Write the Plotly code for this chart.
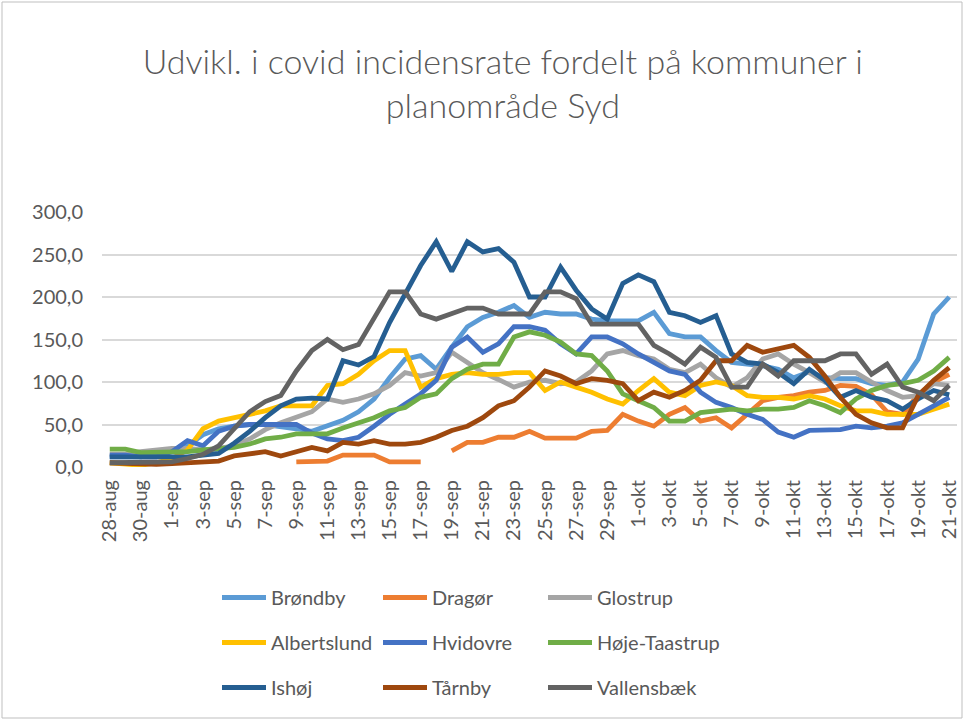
import plotly.graph_objects as go

dates = ["28-aug", "29-aug", "30-aug", "31-aug",
         "1-sep", "2-sep", "3-sep", "4-sep", "5-sep", "6-sep", "7-sep", "8-sep", "9-sep", "10-sep",
         "11-sep", "12-sep", "13-sep", "14-sep", "15-sep", "16-sep", "17-sep", "18-sep", "19-sep", "20-sep",
         "21-sep", "22-sep", "23-sep", "24-sep", "25-sep", "26-sep", "27-sep", "28-sep", "29-sep", "30-sep",
         "1-okt", "2-okt", "3-okt", "4-okt", "5-okt", "6-okt", "7-okt", "8-okt", "9-okt", "10-okt",
         "11-okt", "12-okt", "13-okt", "14-okt", "15-okt", "16-okt", "17-okt", "18-okt", "19-okt", "20-okt",
         "21-okt"]

tick_labels = ["28-aug", "30-aug", "1-sep", "3-sep", "5-sep", "7-sep", "9-sep", "11-sep", "13-sep",
               "15-sep", "17-sep", "19-sep", "21-sep", "23-sep", "25-sep", "27-sep", "29-sep",
               "1-okt", "3-okt", "5-okt", "7-okt", "9-okt", "11-okt", "13-okt", "15-okt", "17-okt",
               "19-okt", "21-okt"]

y_ticks = [0, 50, 100, 150, 200, 250, 300]

brondby = [12, 12, 12, 15, 20, 25, 38, 45, 48, 50,
           50, 48, 45, 42, 48, 55, 65, 80, 105, 127,
           131, 115, 141, 165, 176, 182, 190, 176, 182, 180,
           180, 174, 172, 172, 172, 182, 157, 153, 153, 137,
           123, 121, 119, 115, 105, 112, 105, 104, 104, 98,
           96, 100, 127, 180, 200]

dragor = [None, None, None, None, None, None, None, None, None, None,
          None, None, 6, 6, 7, 14, 14, 14, 6, 6,
          6, None, 19, 29, 29, 35, 35, 42, 34, 34,
          34, 42, 43, 62, 54, 48, 62, 70, 54, 58,
          46, 62, 78, 82, 84, 88, 90, 96, 95, 85,
          65, 62, 85, 100, 109]

glostrup = [15, 15, 18, 20, 22, 22, 20, 22, 25, 33,
            44, 52, 58, 65, 80, 76, 80, 86, 96, 111,
            107, 111, 135, 123, 111, 103, 94, 100, 102, 98,
            100, 113, 133, 137, 131, 127, 115, 111, 121, 105,
            94, 105, 127, 133, 121, 111, 100, 111, 111, 100,
            90, 82, 84, 98, 96]

albertslund = [5, 3, 2, 5, 10, 20, 45, 54, 58, 62,
               66, 72, 72, 72, 96, 98, 109, 125, 137, 137,
               94, 104, 109, 111, 109, 109, 111, 111, 90, 100,
               94, 88, 80, 74, 90, 104, 88, 84, 96, 100,
               96, 84, 82, 82, 80, 84, 80, 72, 66, 66,
               62, 62, 62, 68, 74]

hvidovre = [14, 14, 12, 12, 18, 31, 25, 42, 48, 50,
            50, 50, 50, 40, 33, 31, 35, 48, 62, 74,
            86, 102, 141, 153, 135, 145, 165, 165, 161, 145,
            133, 153, 153, 145, 133, 123, 113, 109, 88, 76,
            70, 62, 56, 41, 35, 43, 43, 44, 48, 46,
            48, 52, 62, 72, 82]

hoje_taastrup = [21, 21, 17, 17, 18, 18, 20, 22, 23, 27,
                 33, 35, 39, 39, 39, 46, 52, 58, 66, 70,
                 82, 86, 104, 115, 121, 121, 153, 159, 155, 147,
                 133, 131, 113, 86, 78, 70, 54, 54, 64, 66,
                 68, 66, 68, 68, 70, 78, 72, 64, 80, 90,
                 96, 98, 102, 113, 129]

ishoj = [12, 12, 12, 12, 12, 12, 14, 16, 28, 42,
         58, 72, 80, 81, 80, 125, 120, 130, 170, 205,
         237, 265, 230, 265, 253, 257, 241, 200, 200, 235,
         208, 186, 174, 216, 226, 218, 182, 178, 170, 178,
         133, 123, 121, 111, 98, 115, 102, 82, 90, 82,
         78, 68, 80, 90, 85]

tarnby = [5, 4, 3, 3, 4, 5, 6, 7, 13, 15,
          18, 13, 18, 23, 19, 29, 27, 31, 27, 27,
          29, 35, 43, 48, 58, 72, 78, 94, 113, 107,
          98, 104, 102, 98, 78, 88, 82, 90, 102, 125,
          125, 143, 135, 139, 143, 129, 107, 82, 62, 52,
          46, 46, 84, 102, 117]

vallensbaek = [5, 5, 5, 5, 6, 10, 15, 25, 45, 65,
               77, 84, 113, 137, 150, 138, 144, 176, 206, 206,
               180, 174, 180, 187, 187, 180, 180, 180, 206, 206,
               198, 168, 168, 168, 168, 143, 133, 121, 141, 129,
               94, 94, 121, 107, 125, 125, 125, 133, 133, 109,
               121, 94, 88, 78, 96]

series_names = ["Brøndby", "Dragør", "Glostrup", "Albertslund", "Hvidovre",
                "Høje-Taastrup", "Ishøj", "Tårnby", "Vallensbæk"]
series_values = [brondby, dragor, glostrup, albertslund, hvidovre,
                 hoje_taastrup, ishoj, tarnby, vallensbaek]
series_colors = ["#5B9BD5", "#ED7D31", "#A5A5A5", "#FFC000", "#4472C4",
                 "#70AD47", "#255E91", "#9E480E", "#636363"]
legend_ids = ["legend", "legend2", "legend3"]

FONT = "Lato"
TXT = "#595959"

fig = go.Figure()
for k, (name, vals, col) in enumerate(zip(series_names, series_values, series_colors)):
    fig.add_trace(go.Scatter(
        x=dates, y=vals, name=name, mode="lines",
        line=dict(color=col, width=4.8),
        connectgaps=False,
        legend=legend_ids[k % 3],
        legendgroup=name,
    ))

W, H = 967, 720
ml, mr, mt, mb = 102, 10, 212, 253
pw = W - ml - mr
ph = H - mt - mb


def px_x(p):
    return (p - ml) / pw


def px_y(q):
    return (H - mb - q) / ph


leg_common = dict(
    orientation="v", yanchor="top", xanchor="left",
    font=dict(family=FONT, size=20, color=TXT),
    bgcolor="rgba(0,0,0,0)", borderwidth=0,
    tracegroupgap=16, itemwidth=44,
)

fig.update_layout(
    width=W, height=H,
    margin=dict(l=ml, r=mr, t=mt, b=mb),
    paper_bgcolor="white", plot_bgcolor="white",
    separators=",.",
    showlegend=True,
    title=dict(
        text="Udvikl. i covid incidensrate fordelt på kommuner i<br>planområde Syd",
        font=dict(family=FONT, size=34, color=TXT, weight=300),
        x=0.52, xref="container", xanchor="center",
        y=1 - 74 / H, yref="container", yanchor="top",
    ),
    xaxis=dict(
        type="category",
        range=[-0.5, len(dates) - 0.5],
        tickmode="array", tickvals=tick_labels, ticktext=tick_labels,
        tickangle=-90,
        tickfont=dict(family=FONT, size=20, color=TXT),
        showgrid=False, showline=False, zeroline=False, ticks="",
        ticklabelstandoff=8, automargin=False,
    ),
    yaxis=dict(
        range=[0, 300],
        tickvals=y_ticks, tickformat=".1f",
        tickfont=dict(family=FONT, size=20, color=TXT),
        showgrid=True, gridcolor="#D9D9D9", gridwidth=1.5,
        zeroline=False, showline=False, ticks="",
        ticklabelstandoff=18, automargin=False,
    ),
    legend=dict(x=px_x(217), y=px_y(578), **leg_common),
    legend2=dict(x=px_x(378), y=px_y(578), **leg_common),
    legend3=dict(x=px_x(543), y=px_y(578), **leg_common),
    shapes=[dict(
        type="rect", xref="paper", yref="paper",
        x0=px_x(2), x1=px_x(962), y0=px_y(718), y1=px_y(2),
        line=dict(color="#BFBFBF", width=1), fillcolor="rgba(0,0,0,0)",
        layer="below",
    )],
)

fig.write_html("out.html",
               config={"displayModeBar": False},
               post_script="document.body.style.margin='0';document.body.style.padding='0';")
